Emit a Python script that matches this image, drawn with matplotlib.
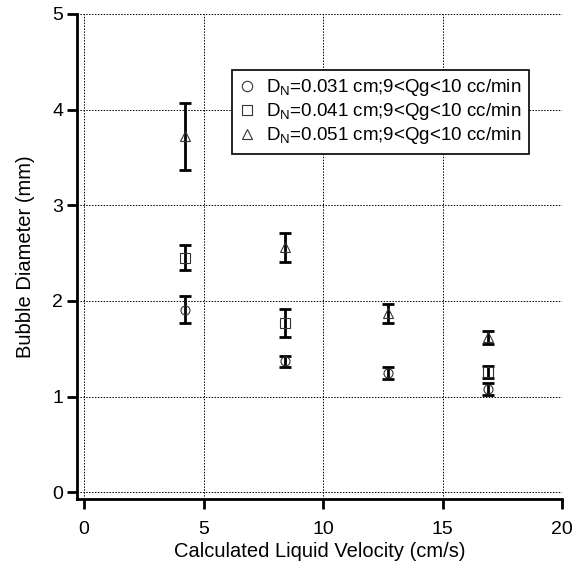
import matplotlib
matplotlib.use("Agg")
import matplotlib.pyplot as plt
import numpy as np

plt.rcParams['font.family'] = ['Liberation Sans', 'DejaVu Sans']
plt.rcParams['mathtext.fontset'] = 'custom'
plt.rcParams['mathtext.rm'] = 'Liberation Sans'
plt.rcParams['mathtext.it'] = 'Liberation Sans:italic'

# Data
x_031 = [4.2, 8.4, 12.7, 16.9]
y_031 = [1.91, 1.37, 1.25, 1.08]
e_031 = [0.145, 0.06, 0.065, 0.065]

x_041 = [4.2, 8.4, 16.9]
y_041 = [2.45, 1.77, 1.26]
e_041 = [0.13, 0.15, 0.06]

x_051 = [4.2, 8.4, 12.7, 16.9]
y_051 = [3.72, 2.56, 1.87, 1.62]
e_051 = [0.35, 0.15, 0.10, 0.07]

labels = [r'D$_\mathrm{N}$=0.031 cm;9<Qg<10 cc/min',
          r'D$_\mathrm{N}$=0.041 cm;9<Qg<10 cc/min',
          r'D$_\mathrm{N}$=0.051 cm;9<Qg<10 cc/min']

W, H = 582, 569
fig = plt.figure(figsize=(W/100, H/100), dpi=100)
l, r_, b, t = 77, 562, 499, 14
ax = fig.add_axes([l/W, (H-b)/H, (r_-l)/W, (b-t)/H])

series = [(x_031, y_031, e_031, 'o'), (x_041, y_041, e_041, 's'), (x_051, y_051, e_051, '^')]
handles = []
for (xs, ys, es, m), lab in zip(series, labels):
    ax.errorbar(xs, ys, yerr=es, fmt='none', ecolor='black', elinewidth=2,
                capsize=4, capthick=2, zorder=3)
    h, = ax.plot(xs, ys, linestyle='none', marker=m, markersize=6.5,
                 markerfacecolor='none', markeredgecolor='#333333',
                 markeredgewidth=0.8, zorder=4, label=lab)
    handles.append(h)

ax.set_xlim(-0.3, 20)
ax.set_ylim(-0.07, 5)
ax.set_xticks([0, 5, 10, 15, 20])
ax.set_yticks([0, 1, 2, 3, 4, 5])
ax.grid(True, color='black', linestyle=(0, (1.5, 1.5)), linewidth=0.7)
ax.set_axisbelow(True)
for s in ['top', 'right']:
    ax.spines[s].set_visible(False)
for s in ['left', 'bottom']:
    ax.spines[s].set_linewidth(2)
ax.tick_params(direction='out', length=7, width=2, labelsize=14)
ax.tick_params(axis='x', pad=9)
ax.tick_params(axis='y', pad=3)
ax.set_xlabel('Calculated Liquid Velocity (cm/s)', fontsize=14.5, labelpad=3)
ax.set_ylabel('Bubble Diameter (mm)', fontsize=14.5, labelpad=12)

leg = ax.legend(handles=handles, loc='upper left',
                bbox_to_anchor=(232/W, 1-70/H), bbox_transform=fig.transFigure,
                fontsize=13.5, frameon=True, fancybox=False, handlelength=0.8,
                handletextpad=0.6, borderpad=0.4, labelspacing=0.15, borderaxespad=0,
                markerscale=1.15)
leg.get_frame().set_edgecolor('black')
leg.get_frame().set_linewidth(1.2)
leg.get_frame().set_alpha(1)

fig.savefig('out.png', dpi=100)
